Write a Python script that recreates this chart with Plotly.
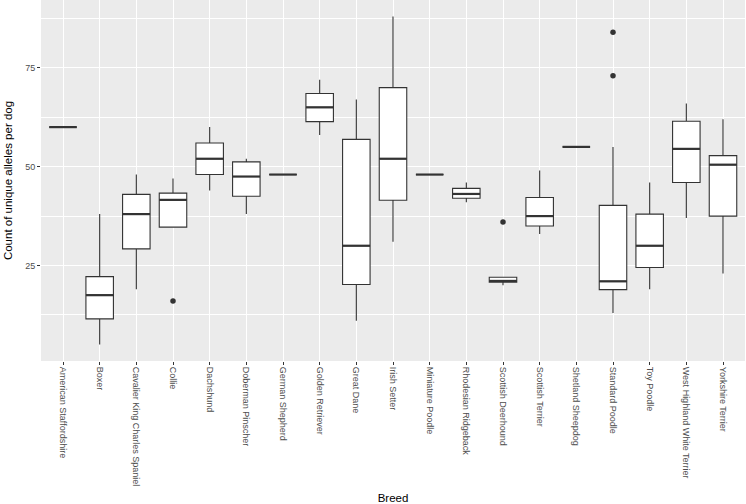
import plotly.graph_objects as go

breeds = ["American Staffordshire", "Boxer", "Cavalier King Charles Spaniel", "Collie",
          "Dachshund", "Doberman Pinscher", "German Shepherd", "Golden Retriever",
          "Great Dane", "Irish Setter", "Miniature Poodle", "Rhodesian Ridgeback",
          "Scottish Deerhound", "Scottish Terrier", "Shetland Sheepdog", "Standard Poodle",
          "Toy Poodle", "West Highland White Terrier", "Yorkshire Terrier"]
lower = [60, 5, 19, 34.7, 44, 38, 48, 58, 11, 31, 48, 41, 20, 33, 55, 13, 19, 37, 23]
q1 =    [60, 11.5, 29.2, 34.7, 48, 42.5, 48, 61.4, 20.2, 41.5, 48, 42, 20.8, 35, 55, 18.9, 24.5, 46, 37.5]
median =[60, 17.5, 38, 41.6, 52, 47.5, 48, 65, 30, 52, 48, 43.1, 21.1, 37.5, 55, 21, 30, 54.5, 50.5]
q3 =    [60, 22.2, 43, 43.3, 56, 51.2, 48, 68.5, 56.9, 70, 48, 44.5, 22.05, 42.2, 55, 40.2, 38, 61.5, 52.8]
upper = [60, 38, 48, 47, 60, 52, 48, 72, 67, 88, 48, 46, 22.05, 49, 55, 55, 46, 66, 62]
outlier_breed = ["Collie", "Scottish Deerhound", "Standard Poodle", "Standard Poodle"]
outlier_value = [16, 36, 84, 73]
y_ticks = [25, 50, 75]

pos = list(range(1, len(breeds) + 1))
half = 0.375
dark = "#333333"

fig = go.Figure()
fig.add_trace(go.Box(
    x=pos, q1=q1, median=median, q3=q3, lowerfence=lower, upperfence=upper,
    width=0.75, whiskerwidth=0, fillcolor="white",
    line=dict(color=dark, width=1.1), boxpoints=False, showlegend=False,
    hoverinfo="skip"))

# thicker median lines (ggplot fatten)
mx, my = [], []
for p, m in zip(pos, median):
    mx += [p - half, p + half, None]
    my += [m, m, None]
fig.add_trace(go.Scatter(x=mx, y=my, mode="lines",
                         line=dict(color=dark, width=2.2), showlegend=False,
                         hoverinfo="skip"))

ox = [breeds.index(b) + 1 for b in outlier_breed]
fig.add_trace(go.Scatter(x=ox, y=outlier_value, mode="markers",
                         marker=dict(color=dark, size=5.5), showlegend=False))

fig.update_layout(
    width=746, height=504,
    margin=dict(l=41, r=1, t=0, b=143, autoexpand=False),
    paper_bgcolor="white", plot_bgcolor="#EBEBEB",
    font=dict(family="Liberation Sans, Arial, sans-serif", color="#4D4D4D", size=9),
    xaxis=dict(
        range=[0.4, 19.6], tickvals=pos, ticktext=breeds, tickangle=90,
        showgrid=True, gridcolor="white", gridwidth=1.1, zeroline=False,
        ticks="outside", ticklen=3, tickcolor=dark, tickwidth=1,
        tickfont=dict(size=9, color="#4D4D4D"),
        title=dict(text="Breed", font=dict(size=11.5, color="black"), standoff=8),
        automargin=False,
    ),
    yaxis=dict(
        range=[0.85, 92.15], tickvals=y_ticks,
        showgrid=True, gridcolor="white", gridwidth=1.1, zeroline=False,
        ticks="outside", ticklen=3, tickcolor=dark, tickwidth=1,
        tickfont=dict(size=9, color="#4D4D4D"),
        minor=dict(tickvals=[12.5, 37.5, 62.5, 87.5], showgrid=True,
                   gridcolor="white", gridwidth=0.5, ticks=""),
        title=dict(text="Count of unique alleles per dog", font=dict(size=11.5, color="black"), standoff=10),
        automargin=False,
    ),
)

fig.write_html("out.html", config={"displayModeBar": False})
with open("out.html", "r", encoding="utf-8") as f:
    html = f.read()
html = html.replace("<body>", '<body style="margin:0;padding:0;overflow:hidden">', 1)
with open("out.html", "w", encoding="utf-8") as f:
    f.write(html)
